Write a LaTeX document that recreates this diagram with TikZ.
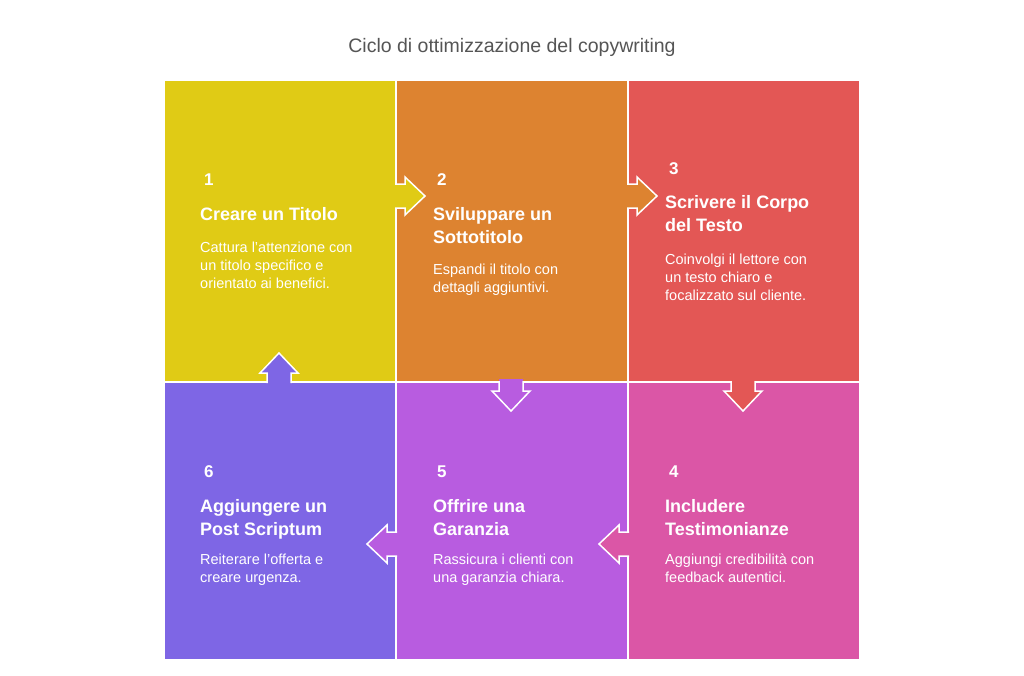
\documentclass[tikz,border=0pt]{standalone}
\usepackage{fontspec}
\setmainfont{Liberation Sans}
\definecolor{cyellow}{HTML}{E0CB15}
\definecolor{corange}{HTML}{DD8330}
\definecolor{cred}{HTML}{E35755}
\definecolor{cpink}{HTML}{DB56A6}
\definecolor{cviolet}{HTML}{B85CE0}
\definecolor{cindigo}{HTML}{7E66E5}
\definecolor{titlegray}{HTML}{555555}

% arrow leaving a cell: position on the border, direction, fill colour
\newcommand{\flowarrow}[3]{%
  \begin{scope}[shift={#1}, rotate=#2]
    \fill[#3] (-3,-12) -- (9,-12) -- (9,-19) -- (29,0) -- (9,19) -- (9,12) -- (-3,12) -- cycle;
    \draw[arrowrim] (-1,-12) -- (9,-12) -- (9,-19) -- (29,0) -- (9,19) -- (9,12) -- (-1,12);
  \end{scope}}

\begin{document}
\begin{tikzpicture}[x=1pt, y=-1pt,
    cell/.style={draw=white, line width=2pt, inner sep=0pt, outer sep=0pt, anchor=north west, minimum width=232pt},
    num/.style={anchor=base west, inner sep=0pt, text=white, font=\fontsize{17}{20}\selectfont\bfseries},
    head/.style={anchor=base west, inner sep=0pt, text=white, align=left, font=\fontsize{18}{23}\selectfont\bfseries},
    body/.style={anchor=base west, inner sep=0pt, text=white, align=left, font=\fontsize{14.5}{18}\selectfont},
    arrowrim/.style={draw=white, line width=1.5pt, line join=miter}]

  \useasboundingbox[fill=white] (0,0) rectangle (1024,675);

  % Title
  \node[anchor=base, text=titlegray, font=\fontsize{19.5}{22}\selectfont] (title) at (512,52) {Ciclo di ottimizzazione del copywriting};

  % Cells
  \node[cell, fill=cyellow, minimum height=302pt] (s1) at (164,80) {};
  \node[cell, fill=corange, minimum height=302pt] (s2) at (396,80) {};
  \node[cell, fill=cred, minimum height=302pt] (s3) at (628,80) {};
  \node[cell, fill=cpink, minimum height=278pt] (s4) at (628,382) {};
  \node[cell, fill=cviolet, minimum height=278pt] (s5) at (396,382) {};
  \node[cell, fill=cindigo, minimum height=278pt] (s6) at (164,382) {};

  % Arrows
  \flowarrow{(396,196)}{0}{cyellow}
  \flowarrow{(628,196)}{0}{corange}
  \flowarrow{(743,382)}{-90}{cred}
  \flowarrow{(628,544)}{180}{cpink}
  \flowarrow{(511,382)}{-90}{cviolet}
  \flowarrow{(396,544)}{180}{cviolet}
  \flowarrow{(279,382)}{90}{cindigo}

  % Step 1 (text nodes sit on the baseline of their last line)
  \node[num] (n1) at (204,185) {1};
  \node[head] (h1) at (200,220) {Creare un Titolo};
  \node[body] (b1) at (200,288) {Cattura l'attenzione con\\un titolo specifico e\\orientato ai benefici.};

  % Step 2
  \node[num] (n2) at (437,185) {2};
  \node[head] (h2) at (433,243) {Sviluppare un\\Sottotitolo};
  \node[body] (b2) at (433,292) {Espandi il titolo con\\dettagli aggiuntivi.};

  % Step 3
  \node[num] (n3) at (669,174) {3};
  \node[head] (h3) at (665,231) {Scrivere il Corpo\\del Testo};
  \node[body] (b3) at (665,300) {Coinvolgi il lettore con\\un testo chiaro e\\focalizzato sul cliente.};

  % Step 4
  \node[num] (n4) at (669,477) {4};
  \node[head] (h4) at (665,535) {Includere\\Testimonianze};
  \node[body] (b4) at (665,582) {Aggiungi credibilità con\\feedback autentici.};

  % Step 5
  \node[num] (n5) at (437,477) {5};
  \node[head] (h5) at (433,535) {Offrire una\\Garanzia};
  \node[body] (b5) at (433,582) {Rassicura i clienti con\\una garanzia chiara.};

  % Step 6
  \node[num] (n6) at (204,477) {6};
  \node[head] (h6) at (200,535) {Aggiungere un\\Post Scriptum};
  \node[body] (b6) at (200,582) {Reiterare l'offerta e\\creare urgenza.};

\end{tikzpicture}
\end{document}
